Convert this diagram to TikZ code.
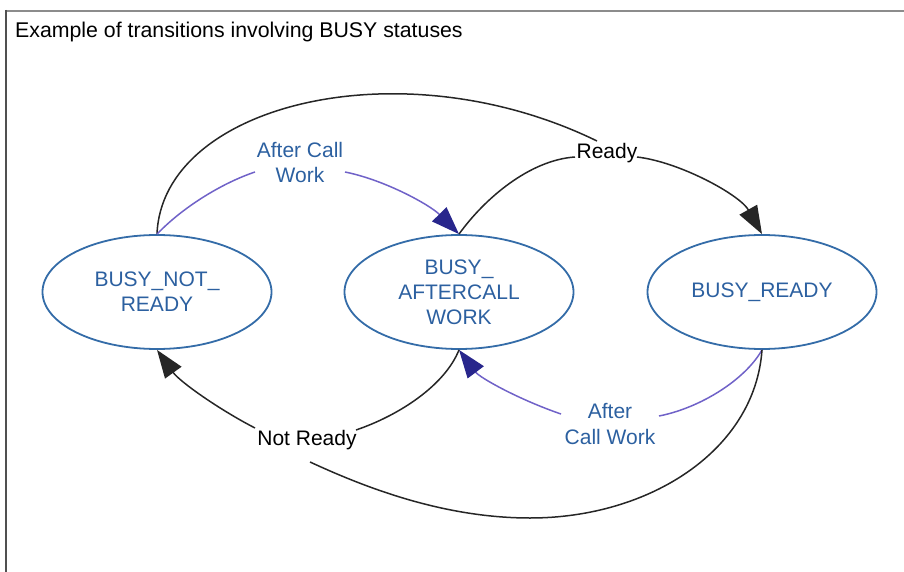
\documentclass[tikz,border=0pt]{standalone}
\usepackage{fontspec}
\setmainfont{Liberation Sans}
\usetikzlibrary{shapes.geometric,arrows.meta}
\definecolor{ellcol}{RGB}{52,108,168}
\definecolor{txtcol}{RGB}{44,96,160}
\definecolor{purp}{RGB}{112,98,200}
\definecolor{navy}{RGB}{40,38,140}
\definecolor{framegray}{RGB}{140,140,140}
\definecolor{framedark}{RGB}{80,80,80}
\tikzset{
  state/.style={draw=ellcol, line width=1.8pt, ellipse, minimum width=229pt, minimum height=114pt,
    inner sep=0pt, align=center, text=txtcol, font=\fontsize{21}{25}\selectfont},
  lbl/.style={inner sep=1pt, align=center, font=\fontsize{21}{25}\selectfont},
  blacklink/.style={draw=black!85, line width=1.5pt},
  bluelink/.style={draw=purp, line width=1.5pt},
  blacktip/.style={-{Triangle[length=28pt,width=20pt]}},
  bluetip/.style={-{Triangle[length=28pt,width=20pt,fill=navy,color=navy]}},
}
\begin{document}
\begin{tikzpicture}[x=1pt,y=-1pt]
\useasboundingbox (0,0) rectangle (904,572);
% frame
\draw[framegray, line width=2.5pt] (5,11) -- (904,11);
\draw[framedark, line width=2pt] (6,10) -- (6,572);
\node[anchor=west, inner sep=0pt, font=\fontsize{21.3}{25}\selectfont] (title) at (15,32) {Example of transitions involving BUSY statuses};

% states
\node[state] (nr) at (157,292) {BUSY\_NOT\_\\READY};
\node[state] (ac) at (459,292) {BUSY\_\\AFTERCALL\\WORK};
\node[state] (br) at (762,292) {BUSY\_READY};

% labels
\node[lbl] (ready) at (607,153) {Ready};
\node[lbl, text=txtcol] (acw1) at (300,162) {After Call\\Work};
\node[lbl, text=txtcol] (acw2) at (610,424) {After\\Call Work};
\node[lbl] (notready) at (307,440) {Not Ready};

% Ready edges
\coordinate (rA) at (597,141);
\coordinate (rB) at (575,157);
\coordinate (rC) at (637,157);
\draw[blacklink] (nr.north) .. controls (162,105) and (400,45) .. (rA);
\draw[blacklink] (ac.north) .. controls (485,198) and (530,160) .. (rB);
\draw[blacklink, blacktip] (rC) .. controls (680,162) and (740,195) .. (br.north);

% After Call Work (top)
\coordinate (a1L) at (255,172);
\coordinate (a1R) at (345,172);
\draw[bluelink] (nr.north) .. controls (185,205) and (225,182) .. (a1L);
\draw[bluelink, bluetip] (a1R) .. controls (385,180) and (430,205) .. (ac.north);

% After Call Work (bottom)
\coordinate (a2R) at (659,416);
\coordinate (a2L) at (561,414);
\draw[bluelink] (br.south) .. controls (745,380) and (700,408) .. (a2R);
\draw[bluelink, bluetip] (a2L) .. controls (520,400) and (480,378) .. (ac.south);

% Not Ready
\coordinate (nR) at (356,430);
\coordinate (nL) at (255,428);
\coordinate (nB) at (310,462);
\coordinate (bot) at (530,518);
\draw[blacklink] (ac.south) .. controls (445,385) and (400,415) .. (nR);
\draw[blacklink] (br.south) .. controls (755,450) and (650,518) .. (bot)
   .. controls (440,518) and (360,485) .. (nB);
\draw[blacklink, blacktip] (nL) .. controls (220,410) and (180,382) .. (nr.south);
\end{tikzpicture}
\end{document}
